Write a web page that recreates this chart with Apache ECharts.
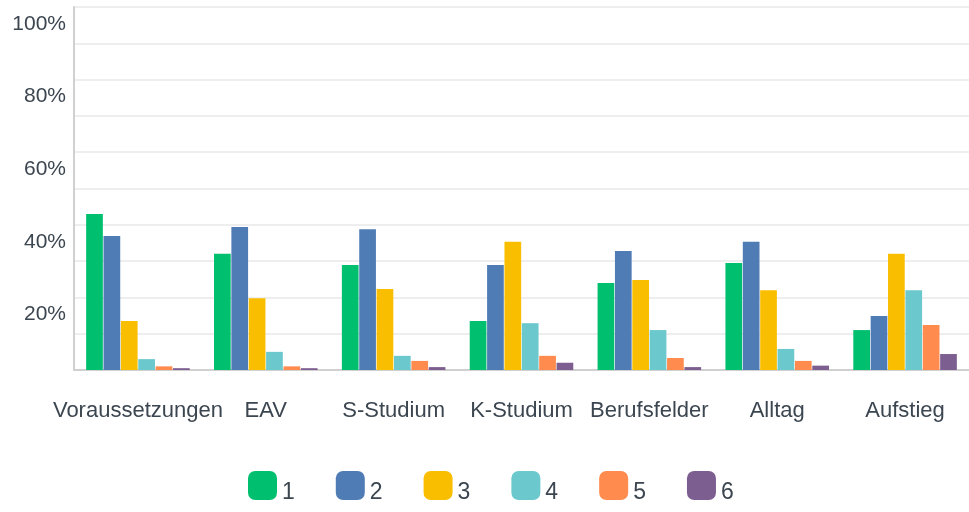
<!DOCTYPE html>
<html>
<head>
<meta charset="utf-8">
<script src="https://cdn.jsdelivr.net/npm/echarts@6/dist/echarts.min.js"></script>
<style>
  html, body { margin: 0; padding: 0; background: #fff; }
  #chart { width: 969px; height: 512px; }
</style>
</head>
<body>
<div id="chart"></div>
<script>
const categories = ['Voraussetzungen', 'EAV', 'S-Studium', 'K-Studium', 'Berufsfelder', 'Alltag', 'Aufstieg']
const seriesNames = ['1', '2', '3', '4', '5', '6']
// percent values per answer option
const values1 = [43.0, 32.0, 28.9, 13.5, 24.0, 29.5, 11.0]
const values2 = [36.9, 39.4, 38.8, 28.9, 32.8, 35.3, 14.9]
const values3 = [13.5, 19.8, 22.3, 35.3, 24.8, 22.0, 32.0]
const values4 = [3.0, 5.0, 3.9, 12.9, 11.0, 5.8, 22.0]
const values5 = [1.0, 1.0, 2.5, 3.9, 3.3, 2.5, 12.4]
const values6 = [0.5, 0.5, 0.8, 2.0, 0.8, 1.2, 4.4]
const colors = ['#00BF6F', '#507CB6', '#F9BE00', '#6BC8CD', '#FF8B4F', '#7D5E90']

const allValues = [values1, values2, values3, values4, values5, values6]

const chart = echarts.init(document.getElementById('chart'))
chart.setOption({
  animation: false,
  textStyle: { fontFamily: 'Liberation Sans, Arial, sans-serif' },
  grid: {
    left: 74,
    right: 0,
    top: 7,
    bottom: 142
  },
  legend: {
    data: seriesNames,
    left: 243,
    top: 466,
    icon: 'roundRect',
    itemWidth: 29,
    itemHeight: 29,
    itemGap: 41,
    formatter: '{a|{name}}',
    textStyle: {
      fontSize: 23,
      color: '#3c4650',
      rich: { a: { fontSize: 23, color: '#3c4650', padding: [14, 0, 0, 0] } }
    }
  },
  xAxis: {
    type: 'category',
    data: categories,
    axisTick: { show: false },
    axisLine: { lineStyle: { color: '#d0d0d0', width: 2 } },
    axisLabel: {
      fontSize: 22,
      color: '#3c4650',
      margin: 30,
      interval: 0
    }
  },
  yAxis: {
    type: 'value',
    min: 0,
    max: 100,
    interval: 10,
    axisLine: { show: true, lineStyle: { color: '#d0d0d0', width: 2 } },
    axisTick: { show: false },
    splitLine: { lineStyle: { color: '#eeeeee', width: 2 } },
    axisLabel: {
      fontSize: 21,
      color: '#3c4650',
      margin: 8,
      verticalAlign: 'top',
      lineHeight: 34,
      formatter: v => (v > 0 && v % 20 === 0 ? v + '%' : '')
    }
  },
  series: allValues.map((vals, i) => ({
    name: seriesNames[i],
    type: 'bar',
    data: vals,
    barGap: '4%',
    barCategoryGap: '19%',
    itemStyle: { color: colors[i] }
  }))
})
</script>
</body>
</html>
